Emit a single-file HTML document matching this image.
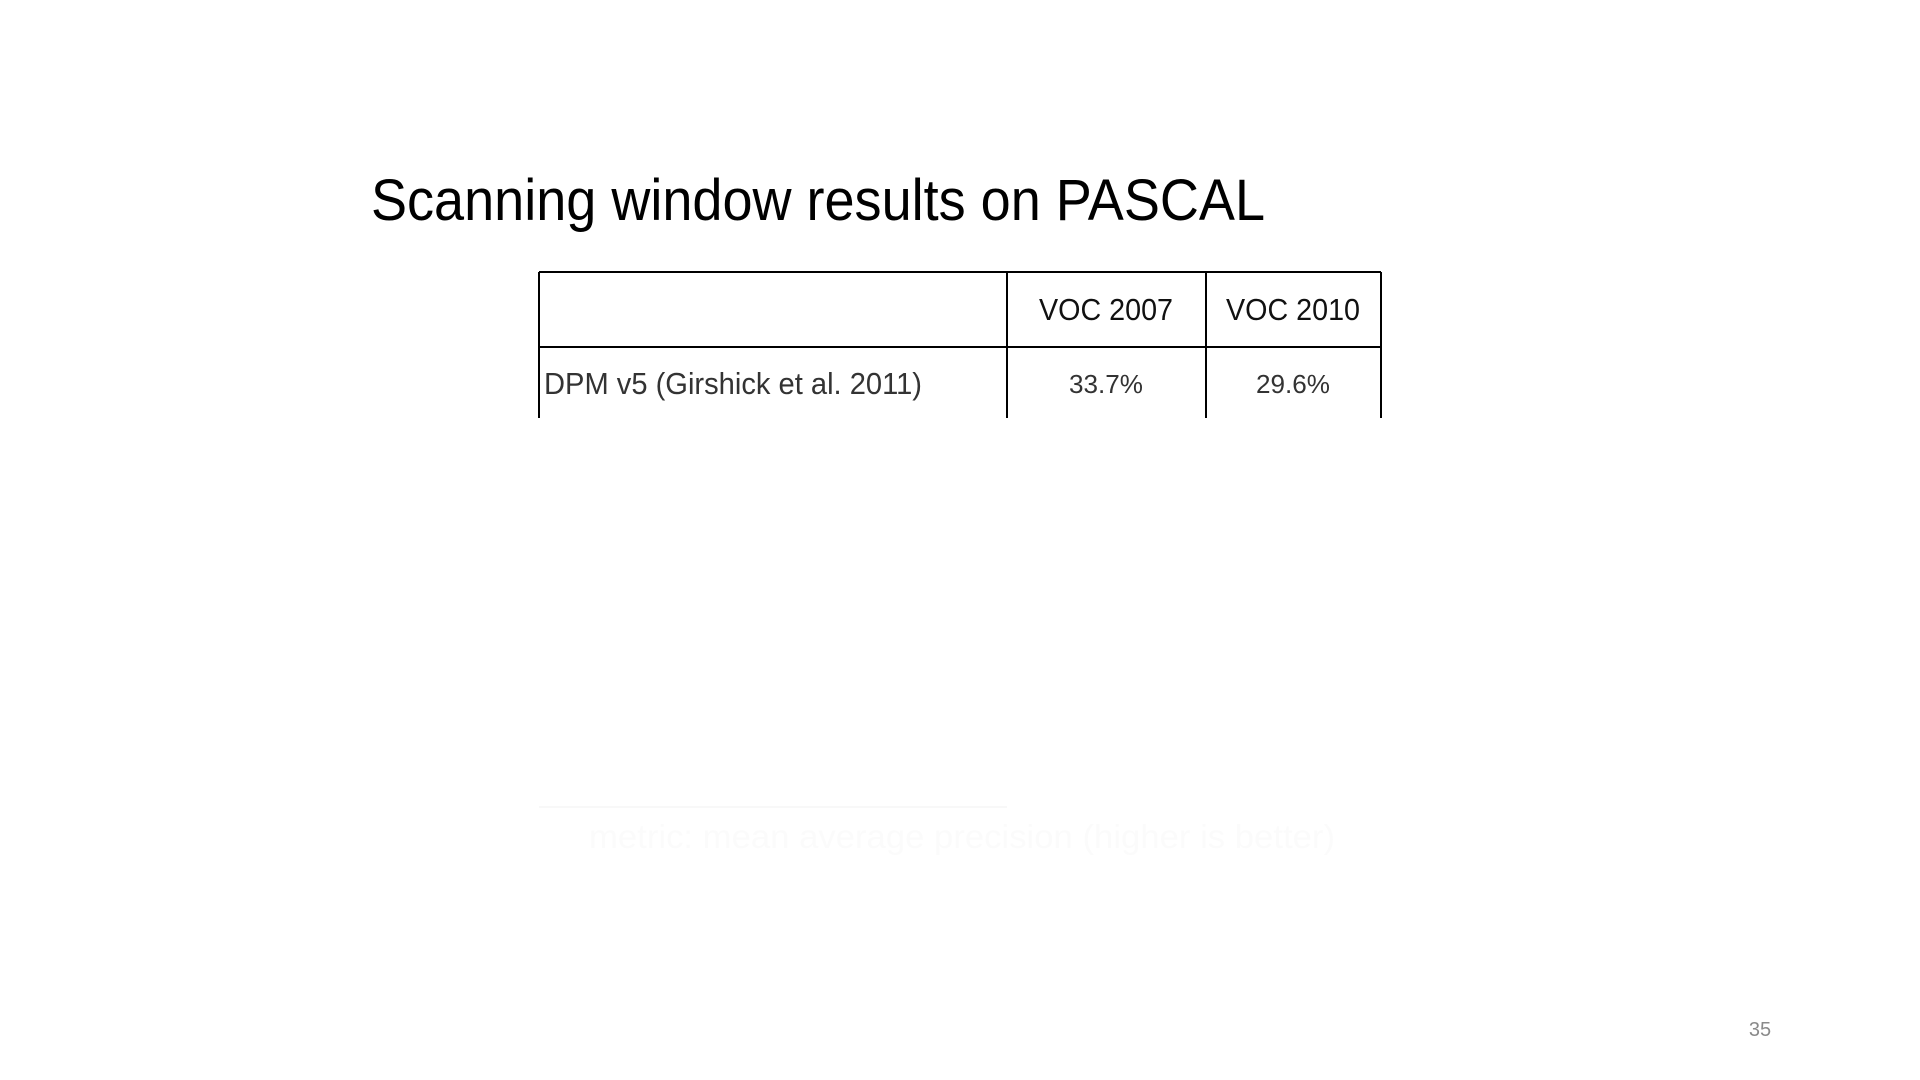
<!DOCTYPE html>
<html><head><meta charset="utf-8"><style>
html,body{margin:0;padding:0;background:#fff;}
svg{display:block;font-family:"Liberation Sans",sans-serif;}
</style></head><body>
<svg width="1920" height="1080" viewBox="0 0 1920 1080">
<text x="371" y="220" font-size="58" fill="#000" textLength="894" lengthAdjust="spacingAndGlyphs">Scanning window results on PASCAL</text>
<g stroke="#000" stroke-width="2" fill="none">
<line x1="539" y1="272" x2="1381" y2="272"/>
<line x1="539" y1="347" x2="1381" y2="347"/>
<line x1="539" y1="272" x2="539" y2="418"/>
<line x1="1007" y1="272" x2="1007" y2="418"/>
<line x1="1206" y1="272" x2="1206" y2="418"/>
<line x1="1381" y1="272" x2="1381" y2="418"/>
</g>
<text x="1106" y="320" font-size="31" text-anchor="middle" fill="#111" textLength="134" lengthAdjust="spacingAndGlyphs">VOC 2007</text>
<text x="1293" y="320" font-size="31" text-anchor="middle" fill="#111" textLength="134" lengthAdjust="spacingAndGlyphs">VOC 2010</text>
<text x="544" y="394" font-size="31" fill="#333" font-weight="300" textLength="378" lengthAdjust="spacingAndGlyphs">DPM v5 (Girshick et al. 2011)</text>
<text x="1106" y="393" font-size="26" text-anchor="middle" fill="#333" textLength="74" lengthAdjust="spacingAndGlyphs">33.7%</text>
<text x="1293" y="393" font-size="26" text-anchor="middle" fill="#333" textLength="74" lengthAdjust="spacingAndGlyphs">29.6%</text>
<line x1="539" y1="807" x2="1007" y2="807" stroke="#f8f8f8" stroke-width="2"/>
<text x="589" y="848" font-size="33" fill="#fbfbfb" textLength="746" lengthAdjust="spacingAndGlyphs">metric: mean average precision (higher is better)</text>
<text x="1760" y="1036" font-size="20" text-anchor="middle" fill="#8a8a8a">35</text>
</svg>
</body></html>
